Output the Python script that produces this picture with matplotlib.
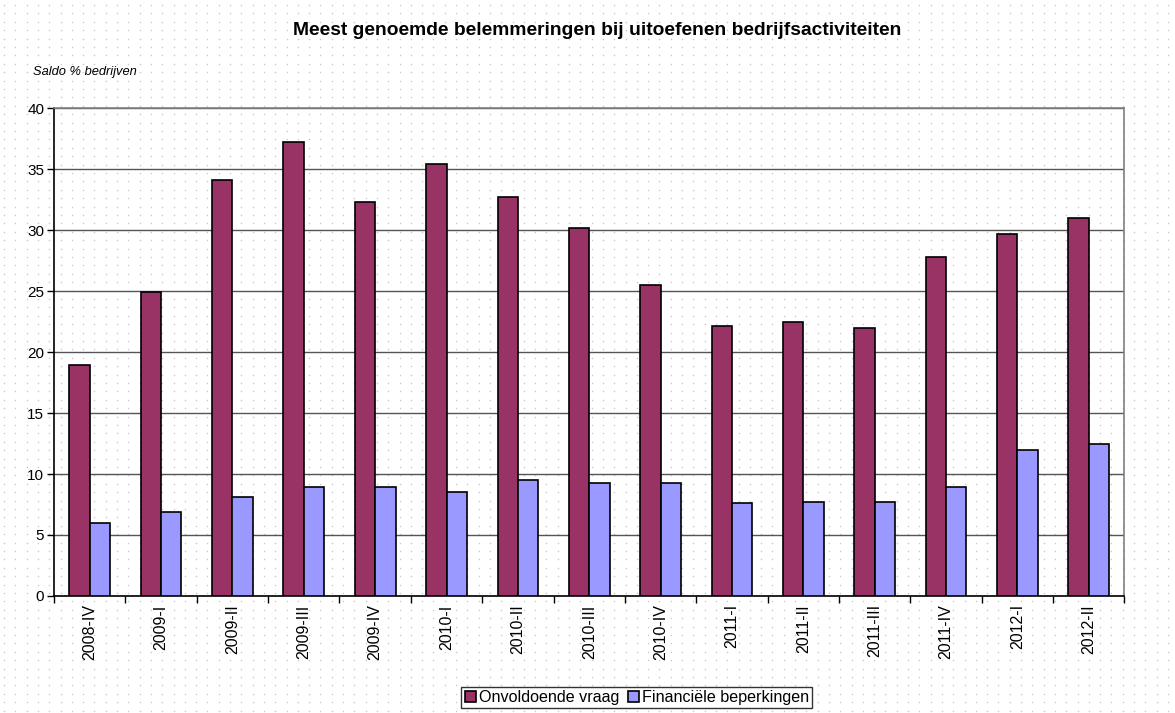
import matplotlib.pyplot as plt
import numpy as np

plt.rcParams['font.family'] = ['Liberation Sans', 'DejaVu Sans']

quarters = ['2008-IV', '2009-I', '2009-II', '2009-III', '2009-IV', '2010-I', '2010-II',
            '2010-III', '2010-IV', '2011-I', '2011-II', '2011-III', '2011-IV', '2012-I', '2012-II']
vraag = [18.9, 24.9, 34.1, 37.2, 32.3, 35.4, 32.7, 30.2, 25.5, 22.1, 22.5, 22.0, 27.8, 29.7, 31.0]
financieel = [6.0, 6.9, 8.1, 8.9, 8.9, 8.5, 9.5, 9.3, 9.3, 7.6, 7.7, 7.7, 8.9, 12.0, 12.5]

fig = plt.figure(figsize=(11.75, 7.13), dpi=100)

# dotted background over the whole figure
bg = fig.add_axes([0, 0, 1, 1], zorder=-10)
bg.set_xlim(0, 1175)
bg.set_ylim(713, 0)
gx, gy = np.meshgrid(np.arange(4, 1175, 11.3), np.arange(5, 713, 8.4))
bg.scatter(gx.ravel(), gy.ravel(), s=1.2, color='#c8c8c8', linewidths=0)
bg.axis('off')

ax = fig.add_axes([0.046, 0.1641, 0.911, 0.6844])
ax.patch.set_alpha(0)

x = np.arange(len(quarters))
w = 0.285
ax.bar(x - w / 2, vraag, w, color='#993366', edgecolor='black', linewidth=1.2,
       label='Onvoldoende vraag', zorder=3)
ax.bar(x + w / 2, financieel, w, color='#9999ff', edgecolor='black', linewidth=1.2,
       label='Financiële beperkingen', zorder=3)

ax.set_xlim(-0.5, len(quarters) - 0.5)
ax.set_ylim(0, 40)
ax.set_yticks(np.arange(0, 41, 5))
ax.yaxis.grid(True, color='#555555', linewidth=1)
ax.set_axisbelow(True)

ax.set_xticks(np.arange(-0.5, len(quarters), 1))
ax.set_xticklabels([])
ax.set_xticks(x, minor=True)
ax.set_xticklabels(quarters, minor=True, rotation=90, fontsize=11.5)
ax.tick_params(axis='x', which='major', direction='out', length=5, width=1)
ax.tick_params(axis='x', which='minor', length=0, pad=6)
ax.tick_params(axis='y', direction='out', length=5, width=1, labelsize=11, pad=2)

for s in ['left', 'bottom']:
    ax.spines[s].set_color('black')
    ax.spines[s].set_linewidth(1.2)
for s in ['top', 'right']:
    ax.spines[s].set_color('#808080')
    ax.spines[s].set_linewidth(1.2)

fig.text(0.508, 0.957, 'Meest genoemde belemmeringen bij uitoefenen bedrijfsactiviteiten',
         ha='center', va='center', fontsize=13.9, fontweight='bold')
fig.text(0.028, 0.899, 'Saldo % bedrijven', ha='left', va='center', fontsize=9.3, style='italic')

leg = fig.legend(loc='lower center', bbox_to_anchor=(0.542, 0.0), ncol=2, fontsize=11.6,
                 frameon=True, fancybox=False, edgecolor='black', handlelength=0.7,
                 handleheight=0.7, handletextpad=0.2, columnspacing=0.5, borderpad=0.2,
                 borderaxespad=0.3)
leg.get_frame().set_linewidth(1)

fig.savefig('out.png', dpi=100)
